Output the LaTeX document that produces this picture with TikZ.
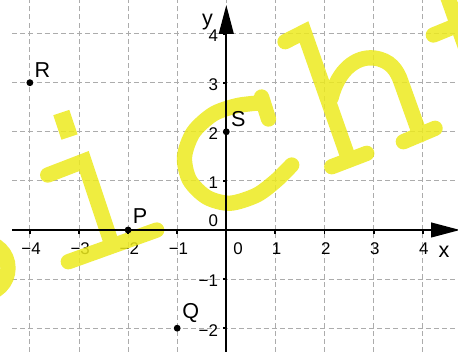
\documentclass[tikz,border=0pt]{standalone}
\usepackage{fontspec}
\setmainfont{Liberation Sans}
\usetikzlibrary{arrows.meta}
\definecolor{wm}{RGB}{236,234,30}
\definecolor{gridc}{RGB}{172,172,172}
\begin{document}
\begin{tikzpicture}[
  gridline/.style={draw=gridc, line width=0.55pt, dash pattern=on 2.9pt off 1.8pt},
  axisline/.style={line width=1.1pt, -{Triangle[length=0.59cm,width=0.3cm]}},
  tickmark/.style={line width=1.1pt},
  ticklab/.style={font=\fontsize{9.8}{10}\selectfont, inner sep=0pt},
  ptlab/.style={font=\fontsize{12.5}{13}\selectfont, inner sep=0pt},
  dotpt/.style={circle, fill=black, inner sep=0pt, minimum size=0.14cm},
  wmstroke/.style={draw=wm, opacity=0.85, line width=0.312cm, line cap=round, line join=miter},
  wmdot/.style={draw=wm, opacity=0.85, line width=0.345cm, line cap=butt}
]
\useasboundingbox (-4.609,-2.485) rectangle (4.719,4.684);
\clip (-4.609,-2.485) rectangle (4.719,4.684);
% grid
\foreach \k in {-4,-3,-2,-1,0,1,2,3,4} \draw[gridline] (\k,-2.485) -- (\k,4.684);
\foreach \k in {-2,-1,0,1,2,3,4} \draw[gridline] (-4.36,\k) -- (4.719,\k);
% tick labels
\foreach \k/\t [count=\i] in {-4/−4,-3/−3,-2/−2,-1/−1,1/1,2/2,3/3,4/4}
  \node[ticklab] (xl\i) at (\k+0.025,-0.377) {\t};
\node[ticklab] (xl0) at (0.238,-0.377) {0};
\foreach \k/\t [count=\i] in {-2/−2,-1/−1,1/1,2/2,3/3,4/4}
  \node[ticklab, anchor=east] (yl\i) at (-0.163,\k-0.04) {\t};
\node[ticklab, anchor=east] (yl0) at (-0.163,0.187) {0};
% watermark (pixel coordinates)
\begin{scope}[xshift=-4.609cm, yshift=4.684cm, x={(0.020367cm,0cm)}, y={(0cm,-0.020367cm)}]
\draw[wmstroke]
  (-18,268) circle [radius=26]
  (47.7,175) -- (84,161) -- (111.7,244)
  (68.3,261.7) -- (156.7,230)
  plot[smooth] coordinates {(258,103) (236.7,105.7) (213.3,114) (193.3,132.3) (184.5,156.7) (189.5,180) (206.7,197.2) (230,203.2) (256.7,195) (276.7,180) (291.7,165)}
  (261.5,97) -- (268.5,119)
  (285,41.7) -- (304,32) -- (348.3,158)
  (331.7,166.7) -- (366.7,153.3)
  (331,98) .. controls (338,70) and (356,56) .. (374,58) .. controls (390,60) and (397,70) .. (401,82) -- (420,135)
  (403.3,141.7) -- (435,128.3)
  (433.3,35) -- (470,20)
  (447,-5) -- (470,60);
\draw[wmdot] (61.3,112.5) -- (69.5,137);
\end{scope}
% axes
\coordinate (xs) at (-4.36,0);
\coordinate (xe) at (4.76,0);
\coordinate (ys) at (0,-2.485);
\coordinate (ye) at (0,4.582);
\draw[axisline] (xs) -- (xe);
\draw[axisline] (ys) -- (ye);
\foreach \k in {-4,-3,-2,-1,1,2,3,4} \draw[tickmark] (\k,0) -- (\k,-0.075);
\foreach \k in {-2,-1,1,2,3,4} \draw[tickmark] (0,\k) -- (-0.075,\k);
\node[ptlab] (xn) at (4.432,-0.442) {x};
\node[ptlab] (yn) at (-0.383,4.242) {y};
% points
\node[dotpt] (R) at (-4,3) {};
\node[dotpt] (S) at (0,2) {};
\node[dotpt] (P) at (-2,0) {};
\node[dotpt] (Q) at (-1,-2) {};
\node[ptlab] (Rl) at (-3.744,3.259) {R};
\node[ptlab] (Sl) at (0.244,2.261) {S};
\node[ptlab] (Pl) at (-1.758,0.289) {P};
\node[ptlab] (Ql) at (-0.723,-1.70) {Q};
\end{tikzpicture}
\end{document}
